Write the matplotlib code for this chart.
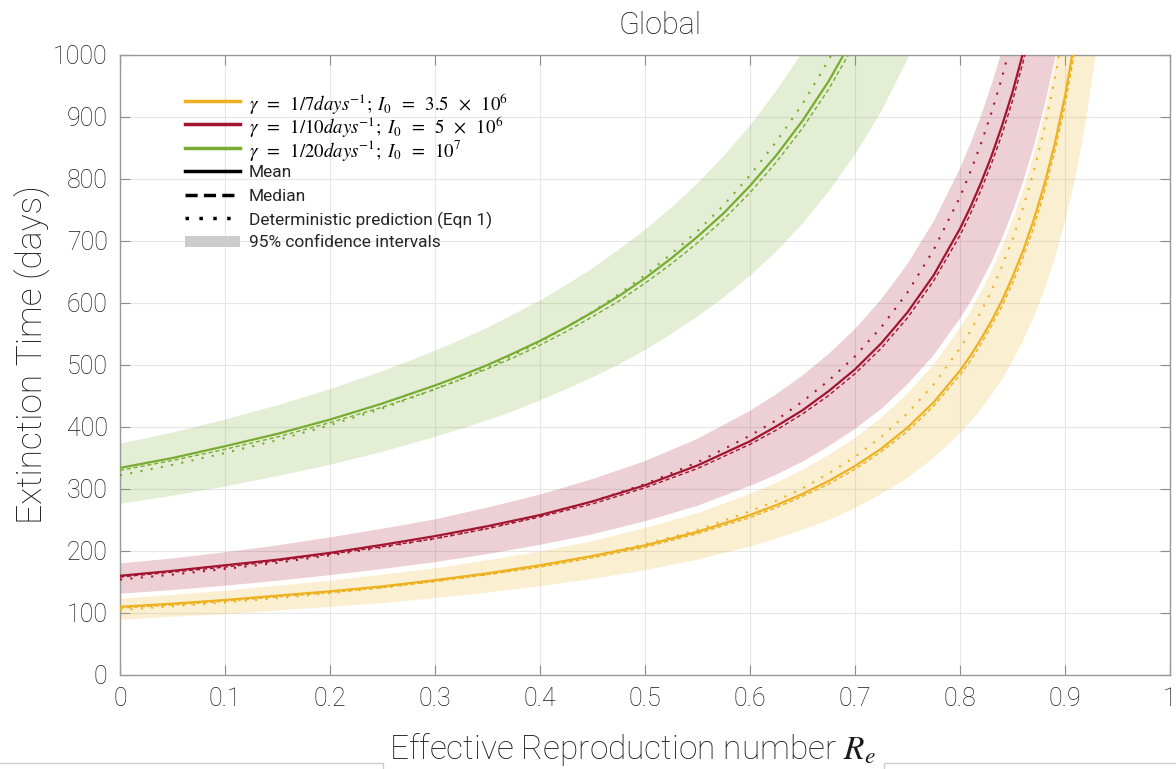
import numpy as np
import matplotlib
matplotlib.use('Agg')
import matplotlib.pyplot as plt
from matplotlib.lines import Line2D
from matplotlib.patches import Rectangle

# Effective reproduction number values for each scenario
green_re = [0, 0.05, 0.1, 0.15, 0.2, 0.25, 0.3, 0.325, 0.35, 0.375, 0.4, 0.425, 0.45,
            0.475, 0.5, 0.525, 0.55, 0.575, 0.6, 0.625, 0.65, 0.675, 0.7, 0.725, 0.75, 0.775]
red_re = [0, 0.05, 0.1, 0.15, 0.2, 0.25, 0.3, 0.35, 0.4, 0.45, 0.5, 0.55, 0.6, 0.625, 0.65,
          0.675, 0.7, 0.725, 0.75, 0.775, 0.8, 0.81, 0.82, 0.83, 0.84, 0.85, 0.86, 0.87, 0.88,
          0.89, 0.9]
yellow_re = red_re + [0.91, 0.92, 0.93, 0.94]

# gamma = 1/20, I0 = 1e7
green_mean = [334, 350, 369, 389, 412, 438, 467, 483, 500, 519, 539, 561, 585, 611, 640, 672,
              707, 745, 789, 838, 894, 958, 1033, 1120, 1225, 1351]
green_median = [330, 346, 364, 384, 407, 432, 461, 477, 494, 512, 532, 554, 578, 603, 632, 663,
                697, 735, 778, 827, 882, 945, 1019, 1105, 1208, 1333]
green_det = [322, 339, 358, 379, 403, 430, 461, 478, 496, 516, 537, 561, 586, 614, 645, 679,
             716, 758, 806, 860, 921, 992, 1075, 1172, 1289, 1433]
green_lo = [276, 289, 304, 321, 339, 360, 384, 397, 411, 426, 443, 461, 480, 501, 524, 550,
            578, 609, 644, 683, 728, 780, 839, 909, 993, 1094]
green_hi = [373, 391, 412, 435, 461, 490, 523, 541, 560, 582, 604, 629, 656, 686, 718, 754,
            793, 837, 886, 942, 1005, 1078, 1163, 1262, 1381, 1525]

# gamma = 1/10, I0 = 5e6
red_mean = [160, 168, 177, 186, 197, 210, 224, 240, 258, 280, 306, 338, 377, 401, 427, 458,
            493, 535, 585, 645, 720, 755, 794, 837, 886, 940, 1003, 1074, 1157, 1254, 1370]
red_median = [158, 166, 174, 184, 195, 207, 220, 236, 255, 276, 302, 333, 372, 395, 421, 451,
              486, 527, 576, 636, 709, 744, 782, 825, 872, 926, 988, 1058, 1139, 1235, 1349]
red_det = [154, 162, 171, 181, 193, 206, 220, 237, 257, 280, 308, 343, 386, 411, 441, 475,
           514, 561, 617, 686, 771, 812, 857, 907, 964, 1028, 1102, 1187, 1285, 1402, 1542]
red_lo = [131, 137, 144, 152, 161, 171, 182, 195, 210, 227, 248, 273, 305, 323, 344, 369,
          397, 429, 469, 516, 575, 602, 633, 666, 704, 747, 795, 851, 915, 990, 1080]
red_hi = [180, 188, 198, 209, 222, 236, 251, 270, 291, 316, 345, 381, 426, 453, 483, 518,
          558, 606, 663, 732, 817, 857, 902, 952, 1007, 1070, 1142, 1224, 1319, 1431, 1565]

# gamma = 1/7, I0 = 3.5e6
yellow_mean = [110, 115, 121, 128, 135, 143, 153, 164, 177, 192, 209, 231, 258, 274, 292, 313,
               337, 365, 399, 440, 491, 515, 542, 571, 604, 642, 684, 733, 789, 855, 934, 1030,
               1148, 1299, 1497]
yellow_median = [108, 113, 119, 126, 133, 141, 151, 162, 174, 189, 206, 228, 254, 270, 288,
                 308, 332, 360, 393, 434, 484, 507, 534, 563, 595, 632, 673, 721, 777, 842, 919,
                 1013, 1130, 1278, 1472]
yellow_det = [105, 111, 117, 124, 132, 141, 151, 162, 176, 192, 211, 234, 264, 281, 301, 325,
              352, 384, 422, 469, 527, 555, 586, 620, 659, 703, 753, 811, 879, 959, 1055, 1172,
              1318, 1507, 1758]
yellow_lo = [89, 94, 98, 104, 110, 116, 124, 133, 143, 155, 169, 186, 207, 220, 234, 250, 269,
             292, 318, 350, 390, 408, 429, 452, 477, 506, 539, 576, 620, 671, 731, 804, 894,
             1009, 1159]
yellow_hi = [123, 129, 136, 144, 152, 162, 172, 185, 199, 216, 237, 261, 292, 310, 331, 355,
             382, 415, 454, 501, 560, 587, 618, 652, 690, 733, 781, 838, 903, 979, 1071, 1181,
             1319, 1494, 1725]

x_tick_labels = ['0', '0.1', '0.2', '0.3', '0.4', '0.5', '0.6', '0.7', '0.8', '0.9', '1']
legend_labels = [
    r'$\gamma\;\;=\;\;1/7days^{-1};\;I_0\;\;=\;\;3.5\;\;\times\;\;10^6$',
    r'$\gamma\;\;=\;\;1/10days^{-1};\;I_0\;\;=\;\;5\;\;\times\;\;10^6$',
    r'$\gamma\;\;=\;\;1/20days^{-1};\;I_0\;\;=\;\;10^7$',
    'Mean', 'Median', 'Deterministic prediction (Eqn 1)', '95% confidence intervals',
]

YELLOW = '#EDB120'
RED = '#A2142F'
GREEN = '#77AC30'


def main():
    plt.rcParams['font.family'] = ['Roboto', 'DejaVu Sans']
    plt.rcParams['mathtext.fontset'] = 'stix'

    fig = plt.figure(figsize=(11.76, 7.69), dpi=100)
    ax = fig.add_axes([120 / 1176, 1 - 675 / 769, 1050 / 1176, 620 / 769])

    series = [
        (green_re, green_mean, green_median, green_det, green_lo, green_hi, GREEN),
        (red_re, red_mean, red_median, red_det, red_lo, red_hi, RED),
        (yellow_re, yellow_mean, yellow_median, yellow_det, yellow_lo, yellow_hi, YELLOW),
    ]
    for re, mean, med, det, lo, hi, c in series:
        ax.fill_between(re, lo, hi, color=c, alpha=0.2, lw=0, zorder=1)
    for re, mean, med, det, lo, hi, c in series:
        ax.plot(re, det, color=c, lw=1.5, ls=(0, (1, 4)), zorder=3)
        ax.plot(re, med, color=c, lw=1.0, ls=(0, (3, 2)), zorder=3)
        ax.plot(re, mean, color=c, lw=1.6, zorder=4)

    ax.set_xlim(0, 1)
    ax.set_ylim(0, 1000)
    ax.set_xticks(np.linspace(0, 1, len(x_tick_labels)))
    ax.set_xticklabels(x_tick_labels)
    ax.set_yticks(np.arange(0, 1001, 100))
    ax.grid(True, color='0.9', lw=0.8)
    ax.set_axisbelow(True)
    for s in ax.spines.values():
        s.set_color('0.6')
        s.set_linewidth(1.0)
    ax.tick_params(direction='in', length=7, width=0.8, color='0.55', top=True, right=True,
                   labelsize=18, labelcolor='0.1', pad=9)
    for lab in ax.get_xticklabels() + ax.get_yticklabels():
        lab.set_fontweight('light')

    # legend drawn row by row so every row keeps the same height
    leg_styles = [
        dict(color=YELLOW, ls='-'),
        dict(color=RED, ls='-'),
        dict(color=GREEN, ls='-'),
        dict(color='black', ls='-'),
        dict(color='black', ls=(0, (3.5, 1.8))),
        dict(color='black', ls=(0, (1, 3))),
        None,
    ]
    to_ax = lambda px, py: ((px - 120) / 1050, (675 - py) / 620)
    for i, (lab, st) in enumerate(zip(legend_labels, leg_styles)):
        py = 101 + 23.4 * i
        x0, y0 = to_ax(185, py)
        x1, _ = to_ax(240, py)
        if st is None:
            h = 11 / 620
            ax.add_patch(Rectangle((x0, y0 - h / 2), x1 - x0, h, transform=ax.transAxes,
                                   color='0.8', lw=0, zorder=5))
        else:
            ax.add_line(Line2D([x0, x1], [y0, y0], transform=ax.transAxes, lw=2.5,
                               zorder=5, **st))
        xt, _ = to_ax(249, py)
        if lab.startswith('$'):
            ax.text(xt, y0, lab, transform=ax.transAxes, fontsize=13.5,
                    va='center_baseline', color='black')
        else:
            ax.text(xt, y0, lab, transform=ax.transAxes, fontsize=12.5,
                    va='center_baseline', color='0.15')

    fig.text(660 / 1176, 1 - 25 / 769, 'Global', ha='center', va='center', fontsize=22,
             fontweight='light', color='0.1')
    fig.text(33 / 1176, 1 - 355 / 769, 'Extinction Time (days)', ha='center', va='center',
             rotation=90, fontsize=25.5, fontweight='light', color='0.1')
    fig.text(632 / 1176, 1 - 750 / 769, r'Effective Reproduction number $R_e$', ha='center',
             va='center', fontsize=24, fontweight='light', color='0.1')

    # thin frame lines along the bottom edge of the reference image
    for xs, ys in [([0, 383, 383], [763, 763, 769]), ([1176, 884, 884], [763, 763, 769])]:
        fig.add_artist(Line2D([x / 1176 for x in xs], [1 - y / 769 for y in ys],
                              color='0.8', lw=1))

    fig.savefig('out.png', dpi=100)


if __name__ == '__main__':
    main()
